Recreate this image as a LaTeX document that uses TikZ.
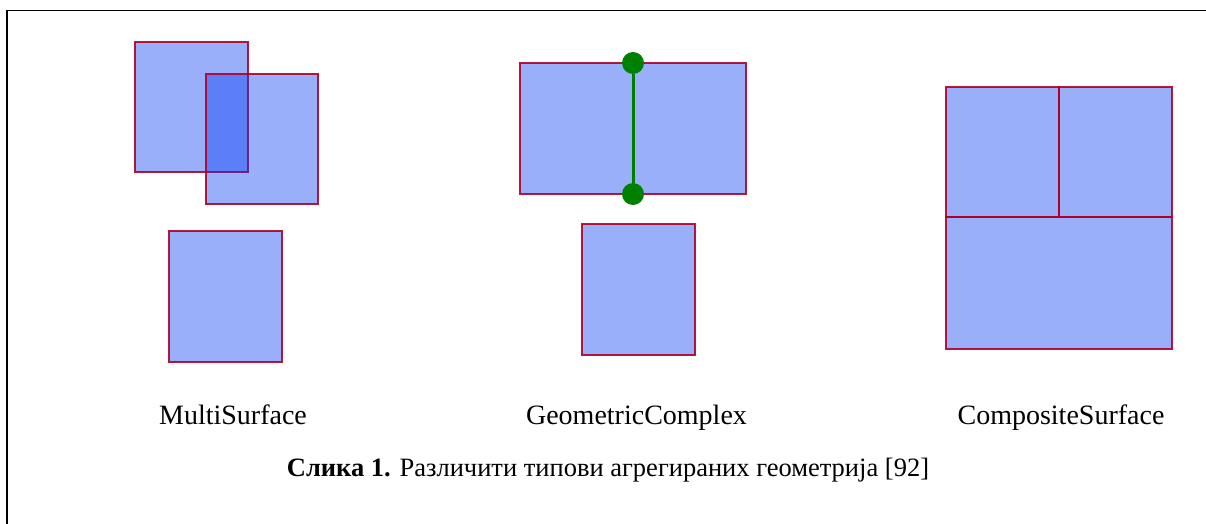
\documentclass[tikz,border=0pt]{standalone}
\usepackage{fontspec}
\setmainfont{Liberation Serif}
\definecolor{surf}{RGB}{0,55,242}
\definecolor{edge}{RGB}{175,0,40}
\definecolor{gr}{RGB}{0,128,0}
\begin{document}
\begin{tikzpicture}[x=1pt,y=-1pt,
  surface/.style={fill=surf,fill opacity=0.4,draw=edge,draw opacity=0.9,line width=2.8pt},
  lab/.style={anchor=base,inner sep=0pt,font=\fontsize{28}{32}\selectfont},
  dot/.style={circle,fill=gr,inner sep=0pt,minimum size=22pt}]
\useasboundingbox (0,0) rectangle (1206,524);
% frame
\draw[line width=1.6pt] (7,524) -- (7,10.7) -- (1206,10.7);
% MultiSurface
\draw[surface] (135,42) rectangle (248,172);
\draw[surface] (206,74) rectangle (318,204);
\draw[surface] (169,231) rectangle (282,362);
% GeometricComplex
\draw[surface] (520,63) rectangle (746,194);
\draw[surface] (582,224) rectangle (695,355);
\node[dot] (d1) at (633,63) {};
\node[dot] (d2) at (633,194) {};
\draw[gr,line width=3pt] (d1) -- (d2);
% CompositeSurface
\draw[surface] (946,87) rectangle (1059,217);
\draw[surface] (1059,87) rectangle (1172,217);
\draw[surface] (946,217) rectangle (1172,349);
% labels
\node[lab] (l1) at (233,424) {MultiSurface};
\node[lab] (l2) at (636.5,424) {GeometricComplex};
\node[lab] (l3) at (1061,424) {CompositeSurface};
\node[anchor=base,inner sep=0pt,font=\fontsize{26.5}{30}\selectfont] (cap) at (608,476) {\textbf{Слика 1.} Различити типови агрегираних геометрија [92]};
\end{tikzpicture}
\end{document}
